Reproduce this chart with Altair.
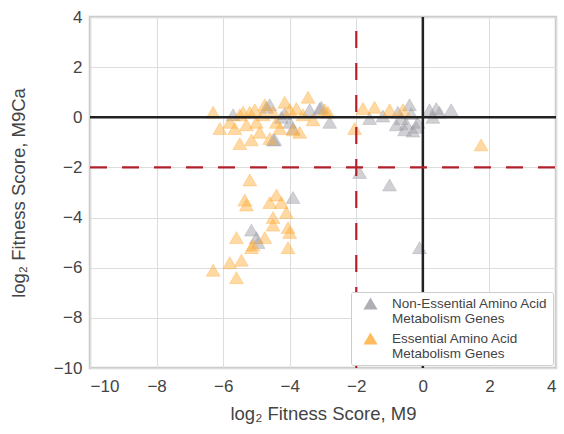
import altair as alt
import pandas as pd

# Non-essential amino acid metabolism genes (gray)
ne_x = [-5.7, -4.7, -4.6, -4.45, -4.5, -4.25, -4.15, -4.0, -3.9, -3.4, -3.1, -3.05, -2.8,
        -1.6, -1.2, -0.8, -0.75, -0.65, -0.55, -0.5, -0.4, -0.35, -0.3, -0.2, -0.15,
        0.2, 0.3, 0.4, 0.5, 0.85,
        -1.9, -1.0, -0.1, -3.9, -5.15, -5.0, -4.95]
ne_y = [0.1, 0.4, 0.5, -0.9, -0.9, 0.0, 0.15, -0.2, -0.45, 0.3, 0.35, 0.4, -0.2,
        -0.05, 0.05, -0.3, 0.2, -0.05, -0.5, -0.25, 0.5, 0.15, -0.55, -0.4, -0.2,
        0.3, 0.0, 0.35, 0.2, 0.3,
        -2.2, -2.7, -5.2, -3.2, -4.5, -4.8, -5.0]

# Essential amino acid metabolism genes (orange)
e_x = [-6.3, -6.1, -5.8, -5.65, -5.5, -5.5, -5.4, -5.3, -5.2, -5.15, -5.05, -5.0, -4.9,
       -4.8, -4.75, -4.6, -4.5, -4.4, -4.3, -4.15, -4.0, -3.9, -3.8, -3.7, -3.6, -3.45,
       -3.3, -2.95, -2.85, -2.05, -1.8, -1.45, -1.0, -0.6, 1.75,
       -5.2, -5.35, -5.3, -4.4, -4.6, -4.25, -4.1, -4.5, -4.5, -4.05, -4.0, -4.05,
       -4.75, -5.6, -5.15, -5.1, -5.45, -5.8, -6.3, -5.6]
e_y = [0.2, -0.45, -0.2, -0.45, -1.05, 0.1, 0.2, -0.3, 0.2, -0.9, 0.3, -0.2, -0.6,
       0.1, 0.5, -0.85, 0.2, -0.2, -0.45, 0.6, 0.3, -0.5, 0.35, -0.6, 0.1, 0.8,
       -0.1, 0.3, 0.2, -0.45, 0.35, 0.4, 0.3, 0.3, -1.1,
       -2.5, -3.3, -3.5, -3.1, -3.4, -3.4, -3.8, -4.0, -4.3, -4.4, -4.6, -5.2,
       -4.8, -4.8, -5.2, -5.1, -5.7, -5.8, -6.1, -6.4]

labels = ["Non-Essential Amino Acid|Metabolism Genes", "Essential Amino Acid|Metabolism Genes"]
colors = ["#9a9aa2", "#ffaa33"]

df = pd.concat([
    pd.DataFrame({"x": ne_x, "y": ne_y, "group": labels[0]}),
    pd.DataFrame({"x": e_x, "y": e_y, "group": labels[1]}),
])

xscale = alt.Scale(domain=[-10, 4], nice=False, zero=False)
yscale = alt.Scale(domain=[-10, 4], nice=False, zero=False)
tick_vals = [-10, -8, -6, -4, -2, 0, 2, 4]
minus_expr = "replace(format(datum.value, 'd'), /[-\u2212]/, '\u2212')"

points = alt.Chart(df).mark_point(
    shape="triangle-up", filled=True, size=190, fillOpacity=0.45,
    strokeOpacity=0.35, strokeWidth=1
).encode(
    x=alt.X("x:Q", scale=xscale,
            axis=alt.Axis(values=tick_vals, title="log₂ Fitness Score, M9", grid=True,
                          labelExpr=minus_expr,
                          domain=False, ticks=False, labelPadding=10, titlePadding=10)),
    y=alt.Y("y:Q", scale=yscale,
            axis=alt.Axis(values=tick_vals, title="log₂ Fitness Score, M9Ca", grid=True,
                          labelExpr=minus_expr,
                          domain=False, ticks=False, labelPadding=8, titlePadding=25)),
    color=alt.Color("group:N", scale=alt.Scale(domain=labels, range=colors),
                    legend=alt.Legend(
                        title=None, orient="none", legendX=261, legendY=275,
                        symbolType="triangle-up", symbolSize=200, symbolOpacity=0.8,
                        symbolStrokeWidth=0, symbolOffset=8,
                        labelExpr="split(datum.label, '|')",
                        labelFontSize=13.5, labelColor="#444444", labelFont="Liberation Sans",
                        labelLimit=300, labelOffset=14, rowPadding=5,
                        strokeColor="#cccccc", fillColor="white", padding=4,
                        cornerRadius=2, offset=0)),
    stroke=alt.Color("group:N", scale=alt.Scale(domain=labels, range=colors), legend=None),
)

zero_df = pd.DataFrame({"v": [0]})
hline0 = alt.Chart(zero_df).mark_rule(color="#222222", strokeWidth=2.5).encode(
    y=alt.Y("v:Q", scale=yscale), x=alt.value(0), x2=alt.value(466))
vline0 = alt.Chart(zero_df).mark_rule(color="#222222", strokeWidth=2.5).encode(
    x=alt.X("v:Q", scale=xscale), y=alt.value(351), y2=alt.value(0))

cut_df = pd.DataFrame({"v": [-2]})
hcut = alt.Chart(cut_df).mark_rule(color="#b2202a", strokeWidth=2.2, strokeDash=[17, 15]).encode(
    y=alt.Y("v:Q", scale=yscale), x=alt.value(0), x2=alt.value(466))
vcut = alt.Chart(cut_df).mark_rule(color="#b2202a", strokeWidth=2.2, strokeDash=[17, 15]).encode(
    x=alt.X("v:Q", scale=xscale), y=alt.value(351), y2=alt.value(0))

chart = alt.layer(points, hline0, vline0, hcut, vcut).properties(
    width=466, height=351,
    autosize=alt.AutoSizeParams(type="none"),
    padding={"left": 90, "top": 17, "right": 8, "bottom": 66},
).configure_view(
    stroke="#cccccc", strokeWidth=2.5
).configure_axis(
    labelFont="Liberation Sans", titleFont="Liberation Sans",
    labelFontSize=17, titleFontSize=18.5, labelColor="#444444", titleColor="#444444",
    titleFontWeight="normal", gridColor="#dddddd", gridWidth=1
)

chart.save("out.html", embed_options={"renderer": "svg", "actions": False})
